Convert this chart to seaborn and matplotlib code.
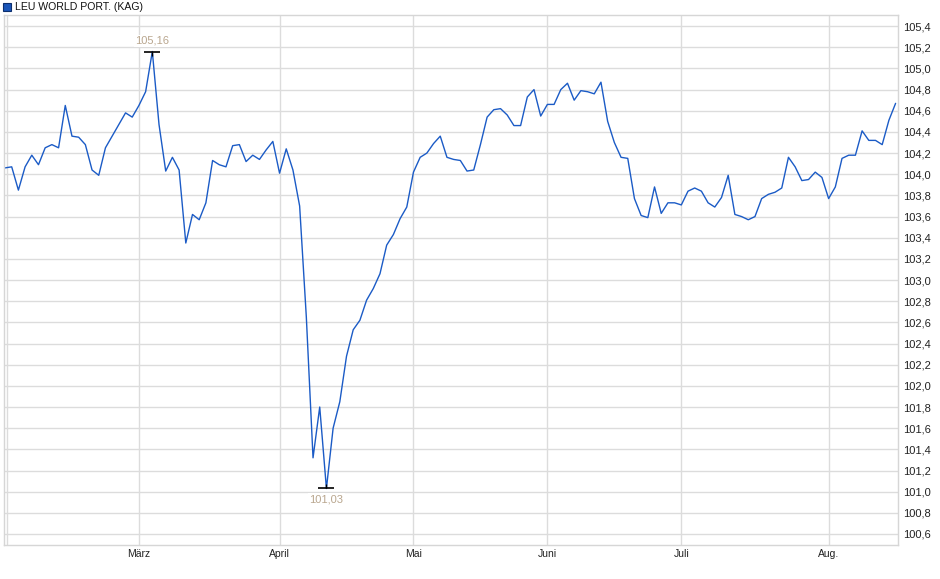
import matplotlib
matplotlib.use("Agg")
from matplotlib import pyplot as plt
import seaborn as sns
import numpy as np
import pandas as pd

# chart data (one value per trading day, Feb - mid Aug)
fund_name = "LEU WORLD PORT. (KAG)"
month_labels = ["März", "April", "Mai", "Juni", "Juli", "Aug."]
days_per_month = [20, 21, 20, 20, 20, 22, 11]  # Feb .. Aug
prices = [
    104.06, 104.07, 103.85, 104.07, 104.18, 104.09, 104.25, 104.28, 104.25, 104.65,
    104.36, 104.35, 104.28, 104.04, 103.99, 104.25, 104.36, 104.47, 104.58, 104.54,
    104.65, 104.78, 105.16, 104.47, 104.03, 104.16, 104.04, 103.35, 103.62, 103.57,
    103.73, 104.13, 104.09, 104.07, 104.27, 104.28, 104.12, 104.18, 104.14, 104.23,
    104.31, 104.01, 104.24, 104.04, 103.70, 102.65, 101.32, 101.80, 101.03, 101.60,
    101.85, 102.28, 102.53, 102.62, 102.81, 102.92, 103.06, 103.33, 103.43, 103.58,
    103.69, 104.02, 104.16, 104.20, 104.29, 104.36, 104.16, 104.14, 104.13, 104.03,
    104.04, 104.28, 104.54, 104.61, 104.62, 104.56, 104.46, 104.46, 104.73, 104.80,
    104.55, 104.66, 104.66, 104.80, 104.86, 104.70, 104.79, 104.78, 104.76, 104.87,
    104.50, 104.30, 104.16, 104.15, 103.77, 103.61, 103.59, 103.88, 103.63, 103.73,
    103.73, 103.71, 103.84, 103.87, 103.84, 103.73, 103.69, 103.78, 103.99, 103.62,
    103.60, 103.57, 103.60, 103.77, 103.81, 103.83, 103.87, 104.16, 104.07, 103.94,
    103.95, 104.02, 103.97, 103.77, 103.88, 104.15, 104.18, 104.18, 104.41, 104.32,
    104.32, 104.28, 104.51, 104.67,
]
y_ticks = [round(100.6 + 0.2 * k, 1) for k in range(25)]

df = pd.DataFrame({"day": np.arange(len(prices)), "price": prices})
month_pos = np.cumsum(days_per_month)[:-1]

sns.set_style("white")
plt.rcParams["font.family"] = ["Liberation Sans", "DejaVu Sans"]

fig = plt.figure(figsize=(9.4, 5.79), dpi=100)
ax = fig.add_axes([4 / 940, 34 / 579, 894 / 940, 530 / 579])

line_col = "#1b5bc6"
grid_col = "#dcdcdc"

sns.lineplot(data=df, x="day", y="price", ax=ax, color=line_col, linewidth=1.0)

ax.set_xlim(-0.15, len(prices) - 1 + 0.36)
ax.set_ylim(100.496, 105.505)

ax.set_yticks(y_ticks)
ax.set_yticklabels(["{:.1f}".format(v).replace(".", ",") for v in y_ticks], fontsize=8)
ax.yaxis.tick_right()
ax.set_xticks(month_pos)
ax.set_xticklabels(month_labels, fontsize=7.5,
                   family=["Liberation Sans Narrow", "Liberation Sans", "DejaVu Sans"])
ax.tick_params(axis="both", length=0, colors="#222222")
ax.tick_params(axis="y", pad=3.5)
ax.tick_params(axis="x", pad=3)
ax.set_xlabel("")
ax.set_ylabel("")

ax.grid(True, color=grid_col, linewidth=1.0)
ax.axvline(0.3, color=grid_col, linewidth=1.0, zorder=0)
for s in ax.spines.values():
    s.set_color("#d6d6d6")
    s.set_linewidth(1.0)

# max / min markers
i_max = int(np.argmax(prices))
i_min = int(np.argmin(prices))
for i, tick, dy in [(i_max, 3, 4), (i_min, 2, -4)]:
    v = prices[i]
    ax.plot(i, v, marker="_", markersize=11, color="black", mew=1.2, zorder=5)
    ax.plot(i, v, marker=tick, markersize=3, color="black", mew=1.0, zorder=5)
    ax.annotate("{:.2f}".format(v).replace(".", ","), (i, v), xytext=(0, dy),
                textcoords="offset points", ha="center",
                va="bottom" if dy > 0 else "top", fontsize=8, color="#b9a68e",
                bbox=dict(boxstyle="square,pad=0.1", fc="white", ec="none"),
                zorder=6)

# header with coloured square
fig.patches.append(plt.Rectangle((3 / 940, 1 - 10.5 / 579), 7.5 / 940, 7.5 / 579,
                                 transform=fig.transFigure, facecolor="#1a55b8",
                                 edgecolor="#0d2f6e", linewidth=0.8))
fig.text(15 / 940, 1 - 7 / 579, fund_name, fontsize=7.6, va="center", ha="left",
         color="#111111")

fig.savefig("out.png", dpi=100)
